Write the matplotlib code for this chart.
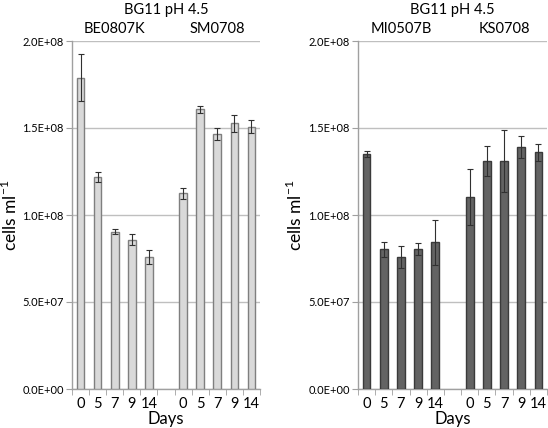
import numpy as np
import matplotlib
matplotlib.use('Agg')
from matplotlib import pyplot as plt
from matplotlib.ticker import FuncFormatter

plt.rcParams['font.family'] = ['Lato', 'DejaVu Sans']

days = ['0', '5', '7', '9', '14']

# левая панель
left_strains = ['BE0807K', 'SM0708']
be_vals = [179e6, 121.7e6, 90.4e6, 85.8e6, 75.8e6]
be_err = [13.5e6, 3e6, 1.6e6, 3e6, 3.8e6]
sm_vals = [112.4e6, 160.7e6, 146.6e6, 152.7e6, 150.7e6]
sm_err = [3.3e6, 1.9e6, 3.6e6, 5e6, 3.7e6]

# правая панель
right_strains = ['MI0507B', 'KS0708']
mi_vals = [135e6, 80.3e6, 75.9e6, 80.5e6, 84.3e6]
mi_err = [1.5e6, 4.4e6, 6.5e6, 3.6e6, 12.8e6]
ks_vals = [110.3e6, 131.2e6, 131e6, 138.9e6, 136e6]
ks_err = [16e6, 8.6e6, 17.6e6, 6.3e6, 4.8e6]

title = 'BG11 pH 4.5'


def sci_fmt(v, pos):
    return '%.1E' % v


def draw_panel(ax, vals1, err1, vals2, err2, strains, face, edge, ylab_x):
    x1 = np.arange(5)
    x2 = np.arange(6, 11)
    for xs, vs, es in [(x1, vals1, err1), (x2, vals2, err2)]:
        ax.bar(xs, vs, width=0.45, color=face, edgecolor=edge, linewidth=1.0, zorder=3)
        ax.errorbar(xs, vs, yerr=es, fmt='none', ecolor='#303030', elinewidth=0.8,
                    capsize=2, capthick=0.8, zorder=4)
    ax.set_xlim(-0.5, 10.5)
    ax.set_ylim(0, 2e8)
    ax.set_yticks(np.arange(0, 2.01e8, 5e7))
    ax.yaxis.set_major_formatter(FuncFormatter(sci_fmt))
    ax.yaxis.grid(True, color='#bfbfbf', linewidth=1.0, zorder=0)
    ax.set_axisbelow(True)
    ax.set_xticks(list(x1) + list(x2))
    ax.set_xticklabels(days + days, fontsize=10.5)
    ax.set_xticks(np.arange(-0.5, 10.6, 1), minor=True)
    ax.tick_params(axis='x', which='major', length=0, pad=6)
    ax.tick_params(axis='x', which='minor', length=4, color='#a0a0a0', direction='out')
    ax.tick_params(axis='y', length=4, color='#a0a0a0', labelsize=8, pad=2)
    for sp in ['top', 'right']:
        ax.spines[sp].set_visible(False)
    for sp in ['left', 'bottom']:
        ax.spines[sp].set_color('#a0a0a0')
        ax.spines[sp].set_linewidth(1.0)
    ax.set_xlabel('Days', fontsize=12, va='center')
    ax.xaxis.set_label_coords(0.5, -0.086)
    ax.set_ylabel('cells ml$^{\\mathregular{-1}}$', fontsize=12.5, va='center')
    ax.yaxis.set_label_coords(ylab_x, 0.5)
    ax.text(2, 2.07e8, strains[0], ha='center', va='center', fontsize=10.5)
    ax.text(8, 2.07e8, strains[1], ha='center', va='center', fontsize=10.5)
    ax.text(5, 2.18e8, title, ha='center', va='center', fontsize=10.5)


fig = plt.figure(figsize=(5.48, 4.28), dpi=100)
ax1 = fig.add_axes([72 / 548, 1 - 389 / 428, 188 / 548, 348 / 428])
ax2 = fig.add_axes([358 / 548, 1 - 389 / 428, 189 / 548, 348 / 428])

draw_panel(ax1, be_vals, be_err, sm_vals, sm_err, left_strains, '#d9d9d9', '#7f7f7f', -0.33)
draw_panel(ax2, mi_vals, mi_err, ks_vals, ks_err, right_strains, '#636363', '#3a3a3a', -0.333)

fig.savefig('out.png', dpi=100)
